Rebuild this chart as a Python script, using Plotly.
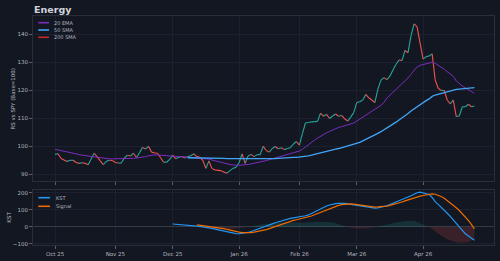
import pandas as pd
import plotly.graph_objects as go
from plotly.subplots import make_subplots

# ---- trading dates (Oct 6 2025 .. ) ----
holidays = ["2025-11-27", "2025-12-25", "2026-01-01", "2026-01-19", "2026-02-16", "2026-04-03"]
_days = [d for d in pd.bdate_range("2025-10-06", "2026-05-15") if d.strftime("%Y-%m-%d") not in holidays]

rs = [97.1, 97.3, 95.6, 95.1, 94.6, 95.0, 95.0, 94.2, 93.9, 94.1,
      93.9, 93.4, 95.5, 97.5, 96.2, 94.8, 93.4, 94.6, 95.0, 94.9,
      94.2, 94.0, 94.0, 95.9, 96.8, 96.5, 97.5, 96.0, 97.7, 99.6,
      99.0, 100.0, 97.9, 97.6, 97.5, 95.9, 94.3, 94.3, 95.3, 96.8,
      95.5, 96.1, 96.3, 95.8, 96.3, 96.6, 97.3, 96.3, 96.1, 94.9,
      92.1, 94.8, 92.1, 91.5, 91.4, 91.3, 90.7, 90.4, 91.3, 92.1,
      92.5, 94.1, 97.3, 93.9, 96.5, 97.1, 96.3, 97.0, 97.0, 100.0,
      98.5, 97.9, 99.2, 99.9, 99.1, 99.5, 98.8, 99.2, 99.5, 100.8,
      101.7, 100.4, 104.5, 108.3, 108.5, 108.7, 108.8, 108.9, 111.8, 110.7,
      111.4, 109.9, 110.8, 111.5, 110.7, 111.0, 109.8, 109.0, 110.4, 112.0,
      115.6, 115.9, 116.5, 118.5, 117.3, 116.5, 115.6, 120.3, 123.5, 124.5,
      123.8, 125.0, 127.2, 129.2, 130.8, 130.6, 134.2, 133.4, 139.5, 143.7,
      142.7, 136.8, 131.1, 132.0, 132.2, 133.0, 123.7, 120.7, 119.9, 119.9,
      116.5, 115.1, 116.5, 110.6, 110.8, 114.1, 114.1, 115.0, 114.1, 114.4]

ema20 = [98.9, 98.7, 98.5, 98.3, 98.1, 97.9, 97.6, 97.3, 97.0, 96.8,
         96.6, 96.4, 96.3, 96.2, 96.1, 95.9, 95.8, 95.6, 95.5, 95.5,
         95.5, 95.5, 95.5, 95.5, 95.6, 95.6, 95.7, 95.8, 95.9, 96.1,
         96.3, 96.6, 96.8, 96.9, 96.9, 96.8, 96.6, 96.5, 96.4, 96.4,
         96.4, 96.3, 96.3, 96.2, 96.2, 96.1, 96.1, 96.0, 95.9, 95.8,
         95.6, 95.4, 95.1, 94.8, 94.6, 94.3, 94.0, 93.7, 93.5, 93.3,
         93.2, 93.2, 93.3, 93.3, 93.5, 93.7, 93.9, 94.1, 94.4, 94.7,
         94.9, 95.2, 95.5, 95.9, 96.2, 96.5, 96.8, 97.0, 97.3, 97.6,
         97.9, 98.3, 98.9, 99.8, 100.7, 101.5, 102.2, 102.9, 103.6, 104.2,
         104.8, 105.3, 105.8, 106.3, 106.7, 107.0, 107.3, 107.6, 107.9, 108.3,
         109.0, 109.7, 110.4, 111.1, 111.8, 112.4, 113.0, 113.7, 114.6, 115.6,
         117.2, 118.2, 119.2, 120.2, 121.2, 122.2, 123.3, 124.4, 125.7, 127.1,
         128.3, 128.9, 129.2, 129.5, 129.7, 130.0, 129.6, 129.0, 128.3, 127.5,
         126.6, 125.8, 125.0, 123.3, 122.3, 121.5, 120.8, 120.1, 119.4, 118.9]

sma50_start = 44
sma50 = [95.9, 95.9, 95.9, 95.9, 95.8, 95.8, 95.8, 95.8, 95.8, 95.7,
         95.7, 95.7, 95.7, 95.6, 95.6, 95.6, 95.6, 95.5, 95.5, 95.5,
         95.4, 95.4, 95.4, 95.4, 95.4, 95.4, 95.5, 95.5, 95.6, 95.6,
         95.7, 95.8, 95.8, 95.9, 95.9, 96.0, 96.0, 96.1, 96.2, 96.4,
         96.6, 96.8, 97.1, 97.3, 97.6, 97.9, 98.1, 98.4, 98.7, 99.0,
         99.2, 99.5, 99.8, 100.1, 100.4, 100.7, 101.0, 101.4, 101.9, 102.4,
         102.9, 103.4, 104.0, 104.6, 105.2, 105.8, 106.5, 107.2, 107.9, 108.6,
         109.3, 110.0, 110.8, 111.7, 112.6, 113.4, 114.2, 114.9, 115.6, 116.3,
         116.9, 117.8, 118.3, 118.6, 118.9, 119.3, 119.6, 119.9, 120.1, 120.3,
         120.4, 120.5, 120.6, 120.7, 120.8, 120.9]

kst_start = 39
kst = [17, 15, 13, 11, 9, 7, 6, 5, 4, 3,
       1, -2, -5, -9, -13, -17, -22, -26, -30, -34,
       -37, -39, -40, -38, -36, -33, -27, -20, -14, -8,
       -2, 5, 11, 18, 24, 30, 36, 42, 46, 50,
       53, 55, 57, 60, 65, 70, 79, 88, 96, 105,
       114, 122, 128, 133, 136, 138, 139, 138, 135, 132,
       129, 126, 123, 120, 117, 114, 112, 110, 111, 114,
       119, 124, 131, 138, 145, 152, 158, 165, 173, 182,
       191, 200, 203, 200, 196, 190, 172, 148, 132, 116,
       98, 80, 62, 40, 20, 0, -20, -40, -53, -65,
       -78]

sig_start = 47
signal = [12, 10, 8, 6, 4, 2, 0, -3, -6, -10,
          -15, -20, -24, -28, -31, -33, -34, -35, -34, -31,
          -28, -24, -20, -16, -10, -4, 2, 9, 16, 23,
          28, 33, 38, 42, 46, 49, 53, 57, 64, 71,
          78, 86, 94, 101, 108, 115, 121, 126, 130, 133,
          135, 135, 133, 130, 127, 124, 121, 118, 117, 116,
          117, 118, 120, 122, 126, 130, 135, 140, 146, 152,
          158, 165, 171, 176, 180, 184, 188, 192, 193, 191,
          186, 178, 168, 155, 142, 128, 112, 96, 78, 58,
          38, 15, -12]

hist_start = 47
hist = [0, -2, -4, -6, -8, -10, -12, -14, -15, -15,
        -14, -13, -11, -9, -7, -5, -2, 0, 3, 6,
        9, 12, 15, 17, 19, 21, 23, 24, 25, 26,
        27, 27, 26, 25, 24, 24, 25, 26, 27, 28,
        29, 29, 29, 28, 27, 25, 21, 16, 10, 4,
        0, -4, -7, -9, -10, -10, -9, -7, -5, -2,
        1, 5, 9, 13, 17, 21, 25, 28, 31, 33,
        35, 36, 35, 30, 22, 12, 4, -2, -12, -25,
        -38, -50, -62, -72, -80, -86, -90, -92, -93, -92,
        -88, -80, -62]

tick_labels = ["Oct 25", "Nov 25", "Dec 25", "Jan 26", "Feb 26", "Mar 26", "Apr 26"]

dates = [d.strftime("%Y-%m-%d") for d in _days[:len(rs)]]
tick_vals = []
for k, d in enumerate(_days[:len(rs)]):
    if k == 0 or d.month != _days[k - 1].month:
        tick_vals.append(dates[k])

BG = "#131722"
GRID = "#1c2030"
BORDER = "#2a2e39"
TXT = "#b2b5be"
FONT = "DejaVu Sans"
C_UP, C_DN = "#26a69a", "#ef5350"
C_EMA, C_SMA50, C_SMA200 = "#7b2cbf", "#42a5f5", "#c62828"
C_KST, C_SIG = "#2196f3", "#ef6c00"

fig = make_subplots(rows=2, cols=1, shared_xaxes=True, vertical_spacing=0.0393,
                    row_heights=[0.75, 0.25])

# RS line coloured by direction
ux, uy, dx, dy = [], [], [], []
for i in range(len(rs) - 1):
    seg_x = [dates[i], dates[i + 1], dates[i + 1]]
    seg_y = [rs[i], rs[i + 1], None]
    if rs[i + 1] >= rs[i]:
        ux += seg_x; uy += seg_y
    else:
        dx += seg_x; dy += seg_y
fig.add_trace(go.Scatter(x=ux, y=uy, mode="lines", line=dict(color=C_UP, width=1.1),
                         showlegend=False, hoverinfo="skip"), row=1, col=1)
fig.add_trace(go.Scatter(x=dx, y=dy, mode="lines", line=dict(color=C_DN, width=1.1),
                         showlegend=False, hoverinfo="skip"), row=1, col=1)
fig.add_trace(go.Scatter(x=dates, y=ema20, mode="lines", name="20 EMA",
                         line=dict(color=C_EMA, width=1.0), showlegend=False), row=1, col=1)
fig.add_trace(go.Scatter(x=dates[sma50_start:sma50_start + len(sma50)], y=sma50, mode="lines",
                         name="50 SMA", line=dict(color=C_SMA50, width=1.3), showlegend=False),
              row=1, col=1)

# KST panel
hx = dates[hist_start:hist_start + len(hist)]
fig.add_trace(go.Scatter(x=hx, y=[max(v, 0) for v in hist], mode="none", fill="tozeroy",
                         fillcolor="rgba(38,166,154,0.18)", showlegend=False), row=2, col=1)
fig.add_trace(go.Scatter(x=hx, y=[min(v, 0) for v in hist], mode="none", fill="tozeroy",
                         fillcolor="rgba(239,83,80,0.18)", showlegend=False), row=2, col=1)
fig.add_trace(go.Scatter(x=dates[kst_start:kst_start + len(kst)], y=kst, mode="lines", name="KST",
                         line=dict(color=C_KST, width=1.2), showlegend=False), row=2, col=1)
fig.add_trace(go.Scatter(x=dates[sig_start:sig_start + len(signal)], y=signal, mode="lines",
                         name="Signal", line=dict(color=C_SIG, width=1.2), showlegend=False),
              row=2, col=1)

xcommon = dict(type="category", categoryorder="array", categoryarray=dates,
               range=[-7.3, 145.5], tickvals=tick_vals, ticktext=tick_labels,
               ticks="outside", ticklen=3, tickcolor="#5d606b", showgrid=True, gridcolor=GRID,
               showline=True, mirror=True, linecolor=BORDER, linewidth=1, zeroline=False,
               tickfont=dict(size=5.5, color=TXT, family=FONT), automargin=False)
fig.update_xaxes(**xcommon)
fig.update_xaxes(showticklabels=False, row=1, col=1)
fig.update_xaxes(showticklabels=True, row=2, col=1)

ycommon = dict(ticks="outside", ticklen=3, tickcolor="#5d606b", showgrid=True, gridcolor=GRID,
               showline=True, mirror=True, linecolor=BORDER, linewidth=1,
               tickfont=dict(size=5.5, color=TXT, family=FONT), automargin=False)
fig.update_yaxes(**ycommon)
fig.update_yaxes(range=[87.6, 146.5], tickvals=[90, 100, 110, 120, 130, 140], zeroline=False,
                 domain=[0.2795, 1.0], row=1, col=1)
fig.update_yaxes(range=[-106, 216], tickvals=[-100, 0, 100, 200], zeroline=True,
                 zerolinecolor="#363a45", zerolinewidth=1, domain=[0.0, 0.2402], row=2, col=1)

# manual compact legends + axis titles
W, H0, PH = 461.0, 245.0, 229.0
def px_x(x):
    return (x - 33) / W
def px_y(y):
    return (H0 - y) / PH

legend_items = [("20 EMA", C_EMA, 22.7, 38.3, 49.0, 51.7),
                ("50 SMA", C_SMA50, 30.0, 38.3, 49.0, 51.7),
                ("200 SMA", C_SMA200, 37.3, 38.3, 49.0, 51.7),
                ("KST", C_KST, 197.7, 38.3, 50.0, 54.3),
                ("Signal", C_SIG, 206.3, 38.3, 50.0, 54.3)]
shapes, annots = [], []
for name, col, yy, x0, x1, xt in legend_items:
    shapes.append(dict(type="line", xref="paper", yref="paper", x0=px_x(x0), x1=px_x(x1),
                       y0=px_y(yy), y1=px_y(yy), line=dict(color=col, width=1.6)))
    annots.append(dict(text=name, xref="paper", yref="paper", x=px_x(xt), y=px_y(yy),
                       xanchor="left", yanchor="middle", showarrow=False,
                       font=dict(size=5, color=TXT, family=FONT)))
annots.append(dict(text="RS vs SPY (Base=100)", xref="paper", yref="paper", x=px_x(12),
                   y=px_y(98.5), textangle=-90, xanchor="center", yanchor="middle",
                   showarrow=False, font=dict(size=5.5, color=TXT, family=FONT)))
annots.append(dict(text="KST", xref="paper", yref="paper", x=px_x(8.7), y=px_y(217),
                   textangle=-90, xanchor="center", yanchor="middle",
                   showarrow=False, font=dict(size=5.5, color=TXT, family=FONT)))

fig.update_layout(
    width=500, height=261, margin=dict(l=33, r=6, t=16, b=16),
    paper_bgcolor=BG, plot_bgcolor=BG, showlegend=False,
    title=dict(text="<b>Energy</b>", x=34 / 500, xanchor="left", xref="container",
               y=1 - 9.5 / 261, yanchor="middle", yref="container",
               font=dict(size=9.5, color="#d1d4dc", family=FONT)),
    shapes=shapes, annotations=annots,
)

fig.write_html("out.html")
